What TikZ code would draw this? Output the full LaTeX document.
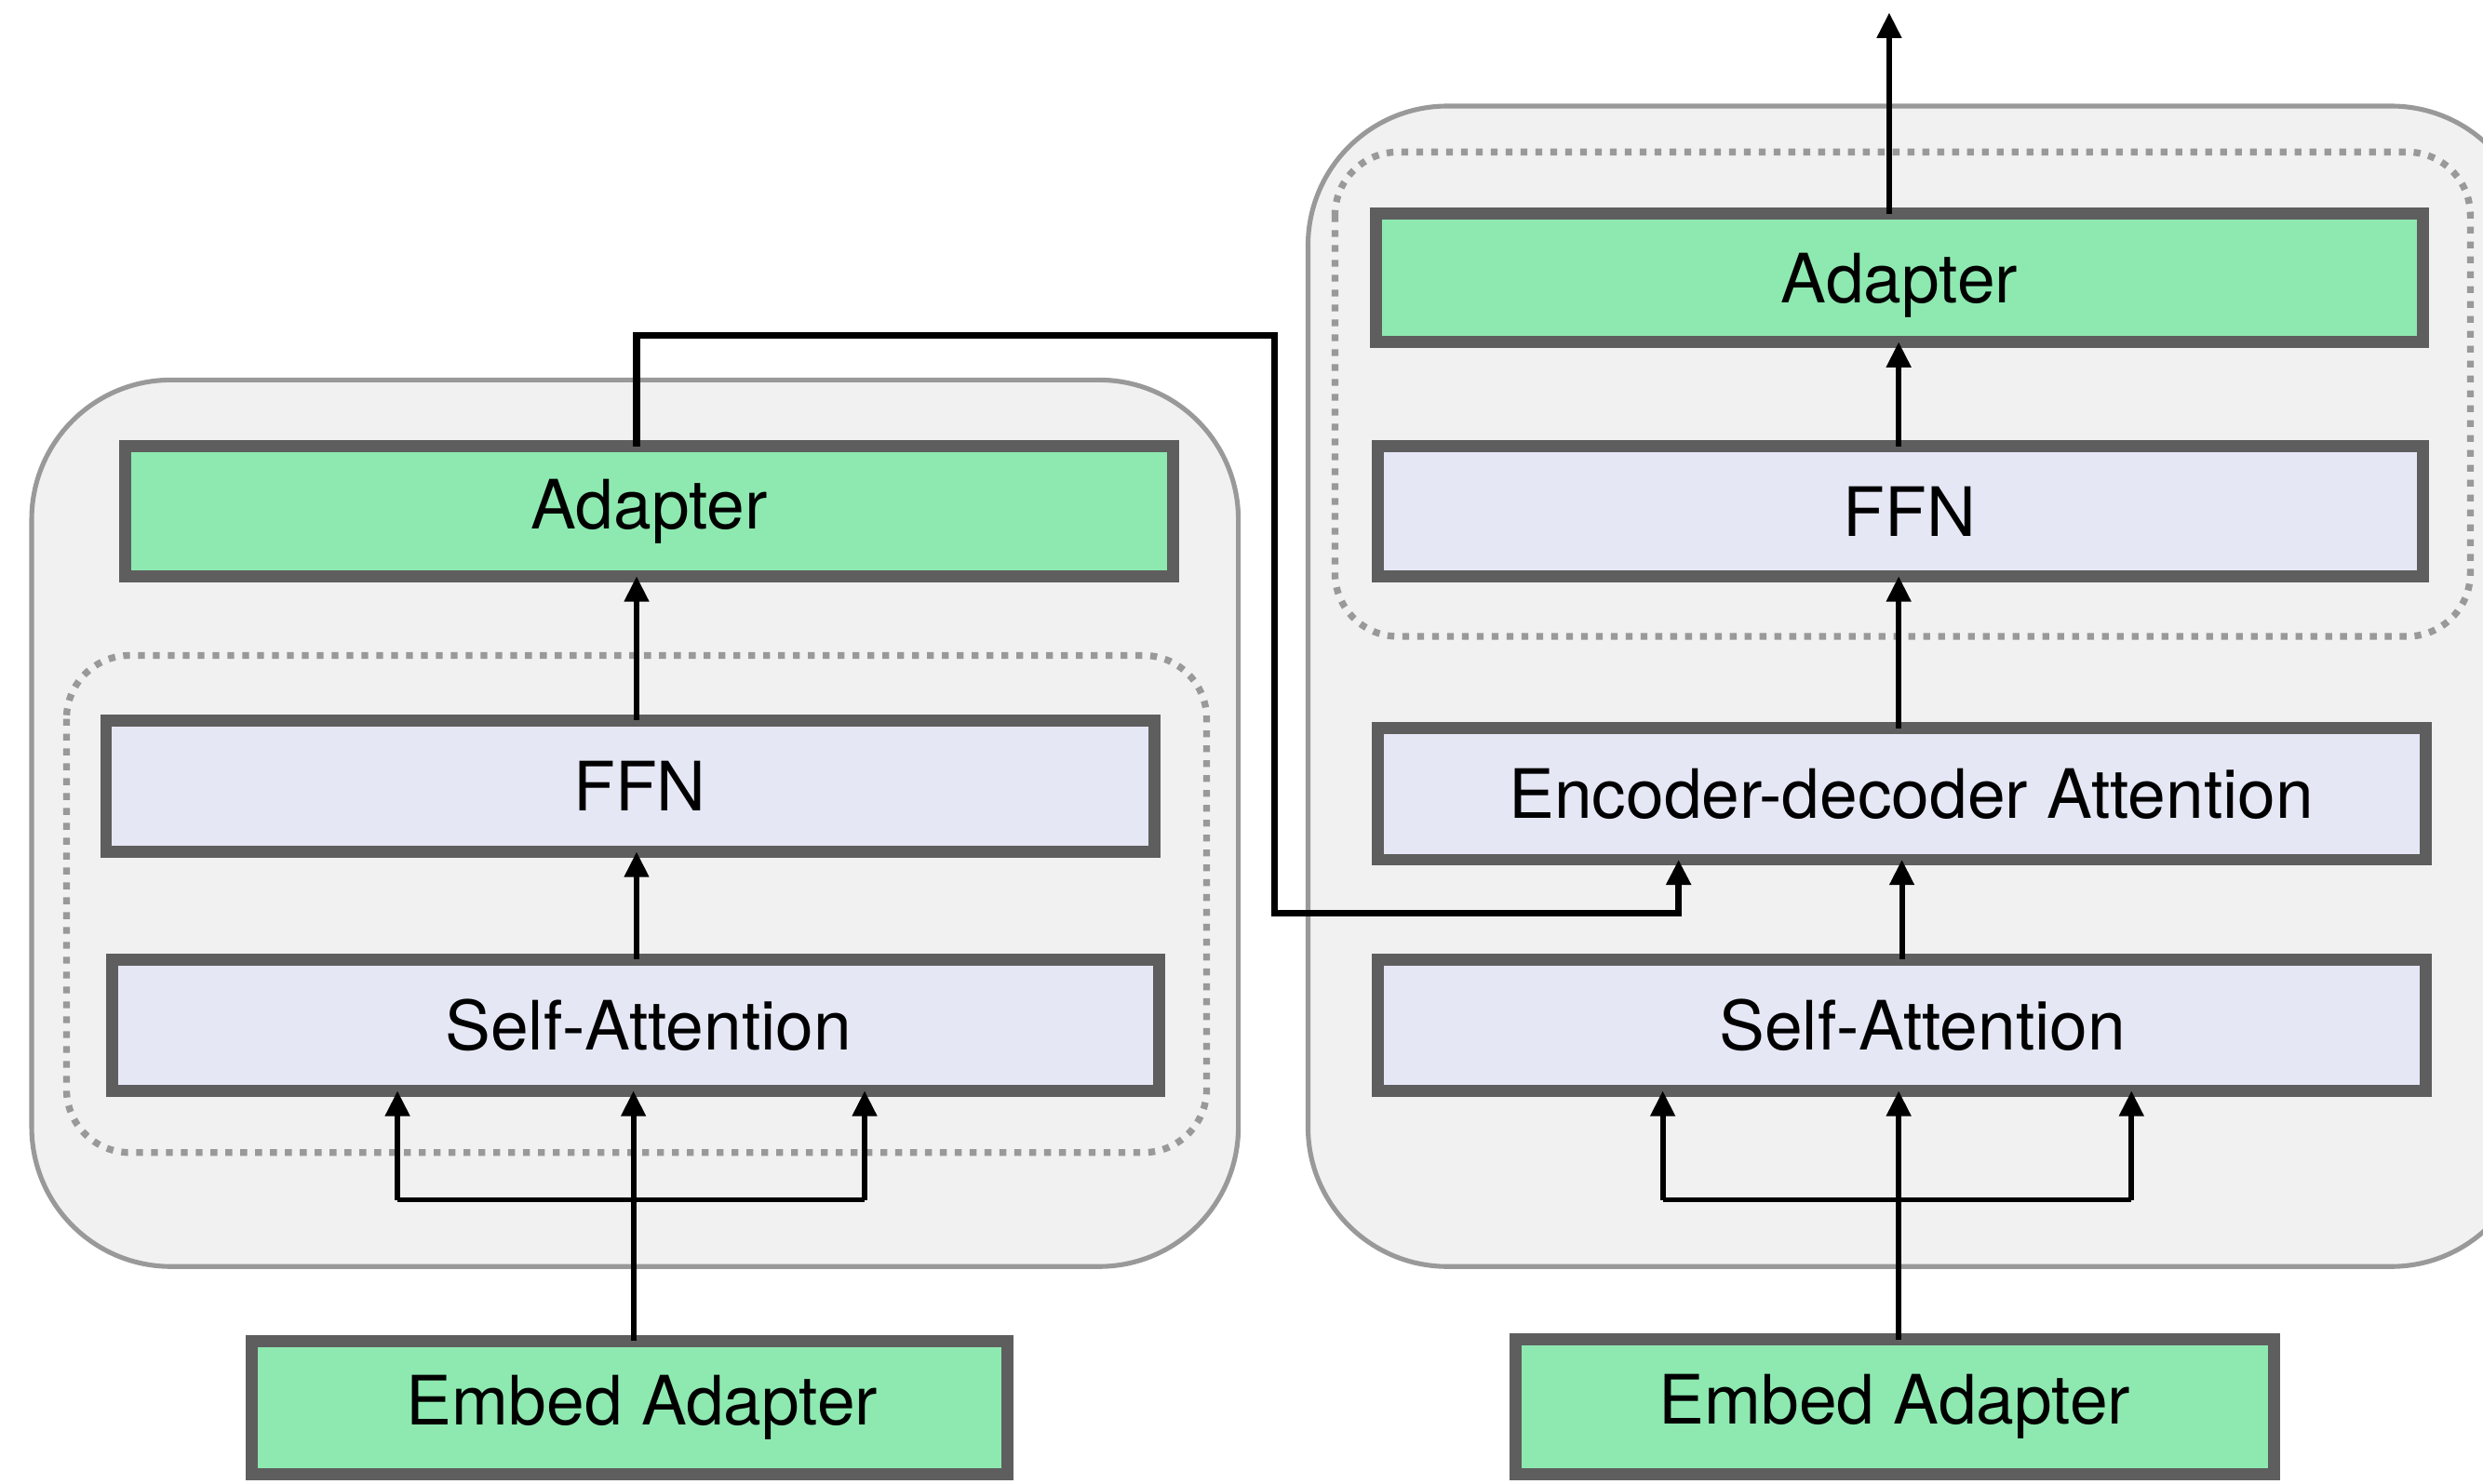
\documentclass[tikz,border=0pt]{standalone}
\usepackage{fontspec}
\setmainfont{TeX Gyre Heros}
\usetikzlibrary{arrows.meta}
\definecolor{adaptgreen}{HTML}{8DE9B0}
\definecolor{layerblue}{HTML}{E5E7F5}
\definecolor{boxedge}{HTML}{5E5E5E}
\definecolor{panelfill}{HTML}{F1F1F1}
\definecolor{paneledge}{HTML}{999999}
\tikzset{
  layer/.style={draw=boxedge, line width=7.5pt, inner sep=0pt, outer sep=0pt,
    font=\fontsize{43}{50}\selectfont},
  greenbox/.style={layer, fill=adaptgreen},
  bluebox/.style={layer, fill=layerblue},
  panel/.style={draw=paneledge, fill=panelfill, line width=3pt, rounded corners=88pt},
  group/.style={draw=paneledge, line width=4.3pt, dash pattern=on 4.3pt off 5.1pt, rounded corners=40pt},
  tip/.style={-{Triangle[length=16pt,width=15pt]}},
  arr/.style={line width=3.5pt, tip},
  link/.style={line width=4.3pt, tip},
  bar/.style={line width=3pt}
}
% shifts a label to the right of its box centre
\newcommand{\nudge}[2]{\hspace*{#1}#2}
\begin{document}
\begin{tikzpicture}[x=1pt, y=-1pt]
\useasboundingbox (0,0) rectangle (1568,937);

% encoder panel
\draw[panel] (20,240) rectangle (782,800);
\draw[group] (42,414) rectangle (762,728);
\node[greenbox, minimum width=662pt, minimum height=82pt] (lad) at (410,323) {Adapter};
\node[bluebox, minimum width=662pt, minimum height=83pt] (lffn) at (398,496.5) {\nudge{12pt}{FFN}};
\node[bluebox, minimum width=661pt, minimum height=83pt] (lsa) at (401.5,647.5) {\nudge{16pt}{Self-Attention}};
\node[greenbox, minimum width=477pt, minimum height=84pt] (lemb) at (397.5,889) {\nudge{16pt}{Embed Adapter}};

\draw[arr] (lsa.north -| 402,0) -- (lffn.south -| 402,0);
\draw[arr] (lffn.north -| 402,0) -- (lad.south -| 402,0);
\draw[arr] (lemb.north -| 400,0) -- (lsa.south -| 400,0);
\coordinate (lbl) at (251,758);
\coordinate (lbr) at (546,758);
\draw[bar] (lbl) -- (lbr);
\draw[arr] (lbl) -- (lbl |- lsa.south);
\draw[arr] (lbr) -- (lbr |- lsa.south);

% decoder panel
\draw[panel] (826,67) rectangle (1598,800);
\draw[group] (843,96) rectangle (1560,402);
\node[greenbox, minimum width=661pt, minimum height=81pt] (rad) at (1199.5,175.5) {\raisebox{-5pt}[\height][\depth]{Adapter}};
\node[bluebox, minimum width=660pt, minimum height=82pt] (rffn) at (1200,323) {\nudge{12pt}{FFN}};
\node[bluebox, minimum width=662pt, minimum height=83pt] (rea) at (1201,501.5) {\nudge{12pt}{Encoder-decoder Attention}};
\node[bluebox, minimum width=662pt, minimum height=83pt] (rsa) at (1201,647.5) {\nudge{26pt}{Self-Attention}};
\node[greenbox, minimum width=479pt, minimum height=85pt] (remb) at (1196.5,888.5) {Embed Adapter};

\coordinate (out) at (1193,8);
\draw[arr] (rad.north -| out) -- (out);
\draw[arr] (rffn.north -| 1199,0) -- (rad.south -| 1199,0);
\draw[arr] (rea.north -| 1199,0) -- (rffn.south -| 1199,0);
\draw[arr] (rsa.north -| 1201,0) -- (rea.south -| 1201,0);
\draw[arr] (remb.north -| 1199,0) -- (rsa.south -| 1199,0);
\coordinate (rbl) at (1050,758);
\coordinate (rbr) at (1346,758);
\draw[bar] (rbl) -- (rbr);
\draw[arr] (rbl) -- (rbl |- rsa.south);
\draw[arr] (rbr) -- (rbr |- rsa.south);

% encoder output into the encoder-decoder attention
\coordinate (k1) at (402,212);
\coordinate (k2) at (805,212);
\coordinate (k3) at (805,577);
\coordinate (k4) at (1060,577);
\draw[link] (lad.north -| k1) -- (k1) -- (k2) -- (k3) -- (k4) -- (k4 |- rea.south);
\end{tikzpicture}
\end{document}
